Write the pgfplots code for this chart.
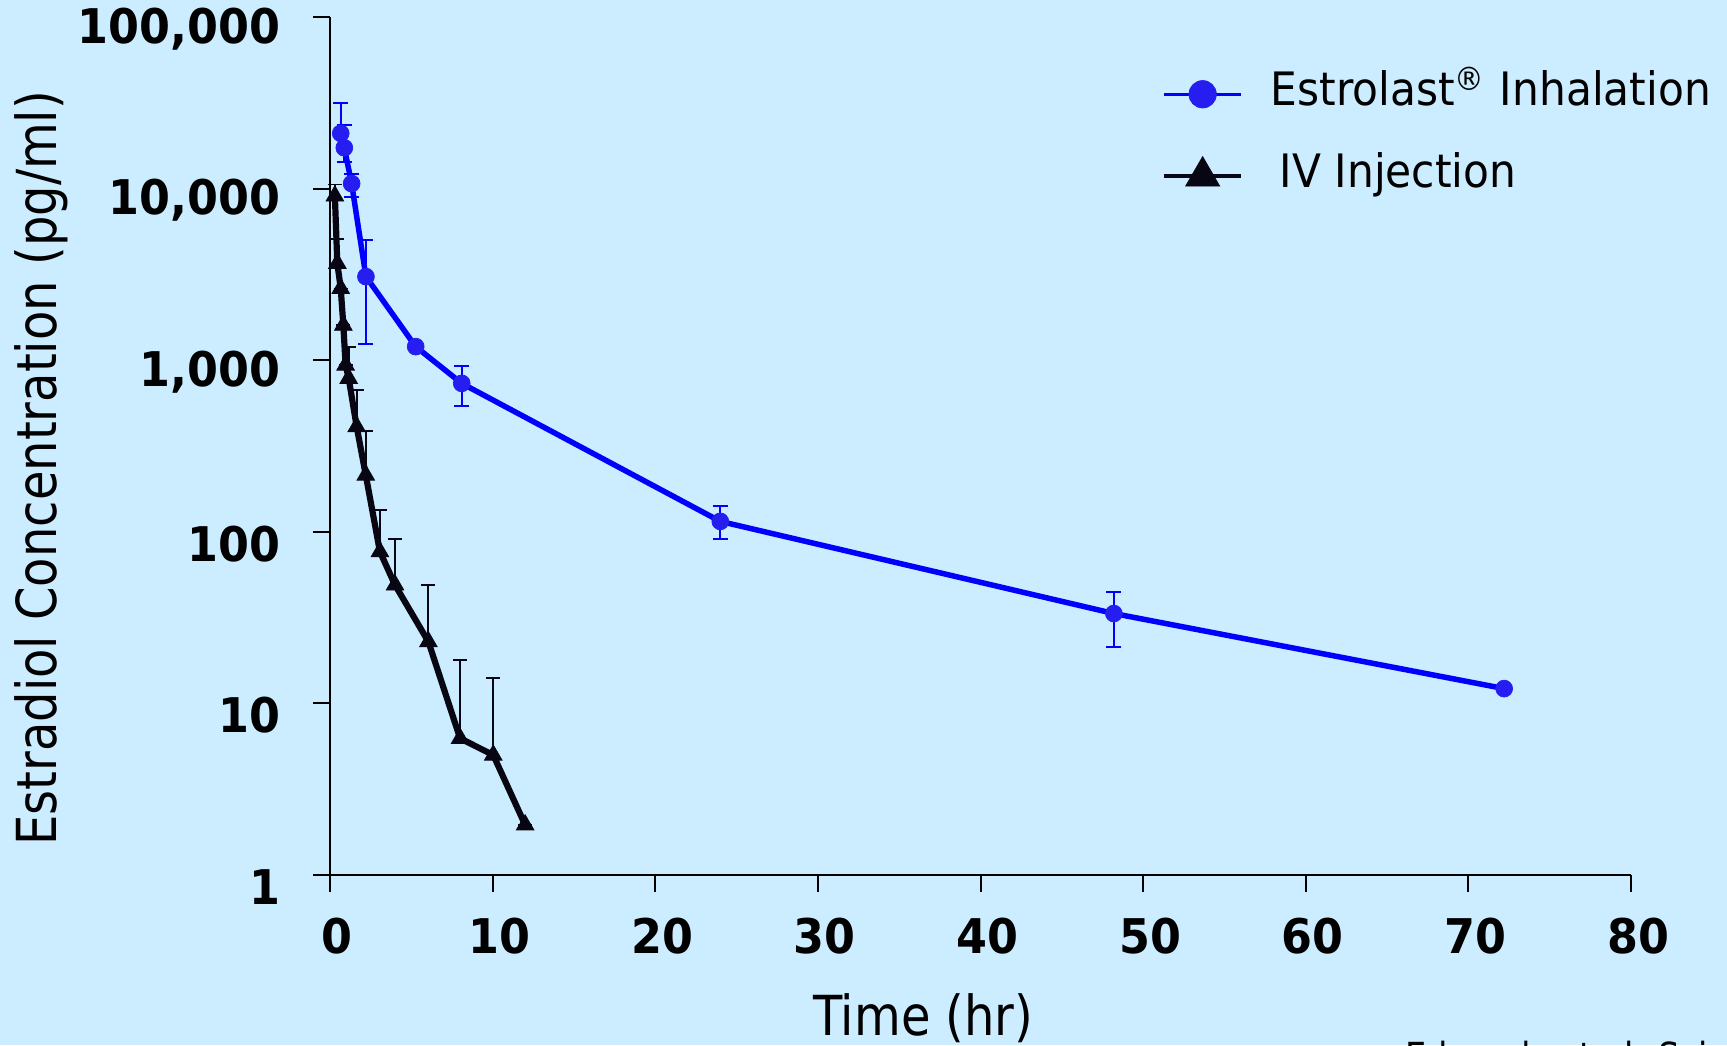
\documentclass[border=0pt]{standalone}
\usepackage{fontspec}
\setmainfont{DejaVu Sans}[FakeStretch=0.87]
\newfontfamily\tickfont{DejaVu Sans}[FakeStretch=0.93]
\newfontfamily\legendfont{DejaVu Sans}[FakeStretch=0.92]
\usepackage{pgfplots}
\usepackage{pgfplotstable}
\pgfplotsset{compat=1.18}

\definecolor{bgblue}{RGB}{204,236,255}
\definecolor{inhline}{RGB}{0,0,255}
\definecolor{inhmark}{RGB}{38,30,240}
\definecolor{ivblack}{RGB}{8,6,18}

% inhalation: time, concentration, upper / lower error
\pgfplotstableread{
t     conc   plus   minus
0.66  21000  10700  0
0.88  17300  6200   2950
1.33  10700  1470   1800
2.21  3070   1940   1830
5.27  1200   0      0
8.1   733    192    194
24.0  115    27     24
48.2  33.4   11     12
72.2  12.2   0      0
}\inhalation

% IV injection: upper error only
\pgfplotstableread{
t     conc   plus
0.3   9060   1500
0.45  3670   1400
0.66  2620   0
0.82  1600   0
0.96  937    0
1.15  784    416
1.64  410    260
2.2   214    173
3.07  76.6   58
4.0   49     42
6.05  22.9   26
8.0   6.26   11.7
10.04 5.0    9
12.0  1.96   0
}\ivinjection

\begin{document}
\begin{tikzpicture}
\useasboundingbox (0,0) rectangle (172.7mm,-104.5mm);
\fill[bgblue] (0,0) rectangle (172.7mm,-104.5mm);
\begin{axis}[
  at={(33mm,-87.5mm)}, anchor=south west,
  scale only axis, width=130.1mm, height=85.8mm,
  ymode=log,
  xmin=0, xmax=80, ymin=1, ymax=100000,
  axis lines=left,
  axis line style={-, line width=0.2mm, black},
  tick align=outside, major tick length=1.7mm,
  tick style={line width=0.2mm, black},
  yminorticks=false,
  xtick={0,10,...,80},
  ytick={1,10,100,1000,10000,100000},
  yticklabels={1,10,100,{1,000},{10,000},{100,000}},
  /pgf/number format/assume math mode=true,
  ticklabel style={font=\tickfont\bfseries\fontsize{13.6}{16}\selectfont, inner sep=0pt},
  xticklabel style={anchor=north, yshift=-2.5mm, xshift=0.7mm},
  yticklabel style={anchor=east, xshift=-3.2mm, yshift=-1.2mm},
  xlabel={Time (hr)},
  ylabel={Estradiol Concentration (pg/ml)},
  label style={font=\fontsize{15.7}{18}\selectfont},
  xlabel style={at={(axis description cs:0.456,-0.1865)}, anchor=base},
  ylabel style={at={(axis description cs:-0.222,0.474)}, anchor=center},
  clip=false,
  legend style={at={(axis description cs:0.639,0.937)}, anchor=north west,
    draw=none, fill=none, inner sep=0pt, row sep=3.7mm, column sep=2.75mm,
    font=\legendfont\fontsize{13.1}{15}\selectfont,
    nodes={inner sep=0pt, text height=3.4mm, text depth=1.1mm}},
  legend cell align=left,
  legend image code/.code={\draw[#1, mark repeat=2, mark phase=2]
    plot coordinates {(0mm,0mm) (3.85mm,0mm) (7.7mm,0mm)};},
]
\addplot[color=inhline, line width=0.55mm,
  mark=*, mark size=2.4pt,
  mark options={fill=inhmark, draw=inhmark, line width=0.2pt},
  error bars/y dir=both, error bars/y explicit,
  error bars/error bar style={line width=0.22mm, inhline},
  error bars/error mark options={rotate=90, mark size=0.75mm, line width=0.22mm, inhline},
  legend image post style={line width=0.35mm, mark size=3.9pt}]
  table[x=t, y=conc, y error plus=plus, y error minus=minus] {\inhalation};
\addlegendentry{Estrolast\textsuperscript{®} Inhalation}

\addplot[color=ivblack, line width=0.62mm,
  mark=triangle*, mark size=2.9pt,
  mark options={fill=ivblack, draw=ivblack, line width=0.2pt},
  error bars/y dir=plus, error bars/y explicit,
  error bars/error bar style={line width=0.18mm, ivblack},
  error bars/error mark options={rotate=90, mark size=0.7mm, line width=0.18mm, ivblack},
  legend image post style={line width=0.42mm, mark size=5.6pt}]
  table[x=t, y=conc, y error plus=plus] {\ivinjection};
\addlegendentry{\hspace{0.9mm}IV Injection}
\end{axis}
\node[anchor=north west, inner sep=0pt, font=\fontsize{11}{13}\selectfont]
  at (140.5mm,-104.0mm) {Edwards et al. Science, 1997};
\end{tikzpicture}
\end{document}
